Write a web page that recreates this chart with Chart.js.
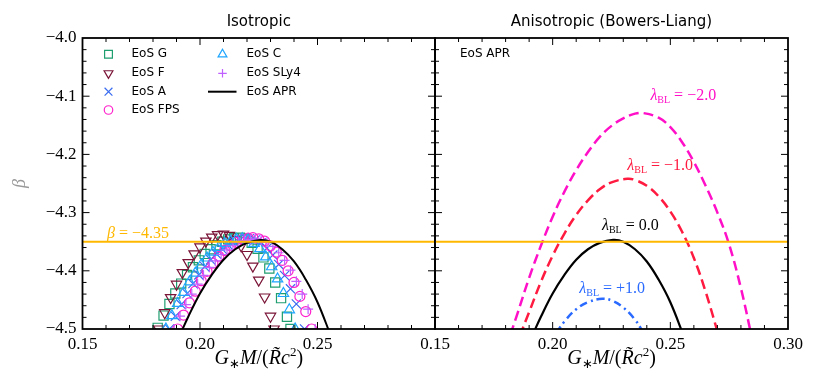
<!DOCTYPE html>
<html>
<head>
<meta charset="utf-8">
<script src="https://cdn.jsdelivr.net/npm/chart.js@4.4.0/dist/chart.umd.min.js"></script>
<style>
html, body { margin: 0; padding: 0; background: #fff; }
#wrap { position: relative; width: 830px; height: 388px; overflow: hidden; }
canvas { position: absolute; top: 0; }
#iso { left: 0; }
#aniso { left: 395px; }
</style>
</head>
<body>
<div id="wrap">
  <canvas id="iso" width="445" height="388"></canvas>
  <canvas id="aniso" width="435" height="388"></canvas>
</div>
<script>
// ---- data ----
const betaLine = -4.35;
const xRange = [0.15, 0.30];
const yRange = [-4.5, -4.0];

// isotropic, one curve per EoS
const eosG_x = [0.182, 0.1845, 0.187, 0.1895, 0.192, 0.1945, 0.197, 0.1995, 0.202, 0.2045, 0.207, 0.2095, 0.212, 0.2145, 0.217, 0.2195, 0.222, 0.2245, 0.227, 0.2295, 0.232, 0.2345, 0.237, 0.2385];
const eosG_y = [-4.498, -4.477, -4.457, -4.439, -4.422, -4.407, -4.394, -4.382, -4.371, -4.363, -4.356, -4.350, -4.346, -4.344, -4.343, -4.345, -4.352, -4.362, -4.377, -4.396, -4.420, -4.447, -4.479, -4.500];

const eosF_x = [0.1825, 0.185, 0.1875, 0.19, 0.1925, 0.195, 0.1975, 0.2, 0.2025, 0.205, 0.2075, 0.21, 0.2125, 0.215, 0.2175, 0.22, 0.2225, 0.225, 0.2275, 0.23, 0.2315];
const eosF_y = [-4.500, -4.472, -4.446, -4.423, -4.403, -4.386, -4.371, -4.359, -4.349, -4.342, -4.338, -4.337, -4.339, -4.346, -4.357, -4.372, -4.392, -4.416, -4.445, -4.478, -4.500];

const eosA_x = [0.187, 0.1895, 0.192, 0.1945, 0.197, 0.1995, 0.202, 0.2045, 0.207, 0.2095, 0.212, 0.2145, 0.217, 0.2195, 0.221, 0.2235, 0.226, 0.2285, 0.231, 0.2335, 0.236, 0.2385, 0.241, 0.2445];
const eosA_y = [-4.500, -4.478, -4.458, -4.439, -4.422, -4.407, -4.393, -4.381, -4.371, -4.363, -4.356, -4.351, -4.347, -4.345, -4.345, -4.347, -4.352, -4.361, -4.373, -4.389, -4.408, -4.431, -4.457, -4.500];

const eosFPS_x = [0.1905, 0.193, 0.1955, 0.198, 0.2005, 0.203, 0.2055, 0.208, 0.2105, 0.213, 0.2155, 0.218, 0.2205, 0.2225, 0.225, 0.2275, 0.23, 0.2325, 0.235, 0.2375, 0.24, 0.2425, 0.245, 0.2475];
const eosFPS_y = [-4.500, -4.476, -4.455, -4.435, -4.417, -4.401, -4.387, -4.375, -4.365, -4.357, -4.351, -4.346, -4.344, -4.343, -4.345, -4.349, -4.357, -4.368, -4.382, -4.400, -4.420, -4.444, -4.470, -4.500];

const eosC_x = [0.1855, 0.188, 0.1905, 0.193, 0.1955, 0.198, 0.2005, 0.203, 0.2055, 0.208, 0.2105, 0.213, 0.2155, 0.218, 0.2205, 0.223, 0.2255, 0.228, 0.2305, 0.233, 0.2355, 0.238, 0.2405];
const eosC_y = [-4.500, -4.477, -4.456, -4.437, -4.419, -4.404, -4.390, -4.378, -4.368, -4.360, -4.353, -4.349, -4.346, -4.345, -4.347, -4.353, -4.362, -4.376, -4.393, -4.414, -4.439, -4.467, -4.500];

const eosSLy4_x = [0.189, 0.1915, 0.194, 0.1965, 0.199, 0.2015, 0.204, 0.2065, 0.209, 0.2115, 0.214, 0.2165, 0.219, 0.2215, 0.2235, 0.226, 0.2285, 0.231, 0.2335, 0.236, 0.2385, 0.241, 0.2435, 0.246, 0.249];
const eosSLy4_y = [-4.500, -4.478, -4.458, -4.440, -4.423, -4.408, -4.394, -4.383, -4.372, -4.364, -4.357, -4.351, -4.348, -4.346, -4.345, -4.347, -4.351, -4.358, -4.369, -4.382, -4.399, -4.418, -4.440, -4.466, -4.500];

// EoS APR, also the lambda_BL = 0 curve
const apr_x = [0.1915, 0.195, 0.2, 0.205, 0.21, 0.215, 0.22, 0.2257, 0.23, 0.235, 0.24, 0.245, 0.25, 0.2557];
const apr_y = [-4.510, -4.479, -4.439, -4.407, -4.381, -4.363, -4.352, -4.347, -4.350, -4.363, -4.384, -4.415, -4.454, -4.512];

// anisotropic (Bowers-Liang), EoS APR
const blm2_x = [0.182, 0.185, 0.19, 0.195, 0.2, 0.205, 0.21, 0.215, 0.22, 0.225, 0.23, 0.235, 0.2385, 0.245, 0.25, 0.255, 0.26, 0.265, 0.27, 0.275, 0.28, 0.2845];
const blm2_y = [-4.510, -4.474, -4.412, -4.357, -4.307, -4.264, -4.227, -4.196, -4.170, -4.151, -4.138, -4.130, -4.129, -4.137, -4.153, -4.179, -4.213, -4.254, -4.300, -4.355, -4.430, -4.512];

const blm1_x = [0.186, 0.19, 0.195, 0.2, 0.205, 0.21, 0.215, 0.22, 0.225, 0.2317, 0.235, 0.24, 0.245, 0.25, 0.255, 0.26, 0.265, 0.2705];
const blm1_y = [-4.512, -4.471, -4.419, -4.374, -4.336, -4.304, -4.279, -4.260, -4.248, -4.242, -4.244, -4.254, -4.272, -4.298, -4.333, -4.378, -4.436, -4.511];

const blp1_x = [0.2015, 0.205, 0.21, 0.215, 0.2211, 0.225, 0.23, 0.235, 0.2385];
const blp1_y = [-4.507, -4.487, -4.466, -4.454, -4.448, -4.451, -4.463, -4.484, -4.506];

const pts = (xs, ys) => xs.map((x, i) => ({ x: x, y: ys[i] }));

const GOLD = '#ffb800';
const eosStyles = [
  { label: 'EoS G',    xs: eosG_x,    ys: eosG_y,    color: '#1f9e70', style: 'rect',     r: 6.5, rot: 0 },
  { label: 'EoS F',    xs: eosF_x,    ys: eosF_y,    color: '#7b1538', style: 'triangle', r: 6,   rot: 180 },
  { label: 'EoS A',    xs: eosA_x,    ys: eosA_y,    color: '#3a6cf0', style: 'crossRot', r: 6.5, rot: 0 },
  { label: 'EoS FPS',  xs: eosFPS_x,  ys: eosFPS_y,  color: '#ff22cc', style: 'circle',   r: 5,   rot: 0 },
  { label: 'EoS C',    xs: eosC_x,    ys: eosC_y,    color: '#1ea5ff', style: 'triangle', r: 6,   rot: 0 },
  { label: 'EoS SLy4', xs: eosSLy4_x, ys: eosSLy4_y, color: '#c060ff', style: 'cross',    r: 5,   rot: 0 }
];

// ---- drawing helpers ----
function drawParts(ctx, parts, x, base, align) {
  let w = 0;
  parts.forEach(p => { ctx.font = p[1]; w += ctx.measureText(p[0]).width; });
  let cx = align === 'center' ? x - w / 2 : x;
  ctx.textAlign = 'left';
  ctx.textBaseline = 'alphabetic';
  parts.forEach(p => {
    ctx.font = p[1];
    ctx.fillText(p[0], cx, base + (p[2] || 0));
    cx += ctx.measureText(p[0]).width;
  });
}

function drawXLabel(ctx, cx, base) {
  const it = 'italic 20px "Liberation Serif"', rm = '20px "Liberation Serif"', sm = '13px "Liberation Serif"';
  ctx.fillStyle = '#000';
  drawParts(ctx, [['G', it], ['\u2217', sm, 4], ['M', it], ['/(', rm], ['R\u0303', it], ['c', it], ['2', sm, -8], [')', rm]], cx, base, 'center');
}

function drawLambda(ctx, chart, xv, yv, value, color) {
  const { x, y } = chart.scales;
  ctx.fillStyle = color;
  drawParts(ctx, [['\u03bb', 'italic 16px "Liberation Serif"'], ['BL', '10px "Liberation Serif"', 3], [' = ' + value, '16px "Liberation Serif"']],
    x.getPixelForValue(xv), y.getPixelForValue(yv) + 6, 'center');
}

function marker(ctx, style, r, rot, px, py) {
  if (Chart.helpers && Chart.helpers.drawPoint) {
    Chart.helpers.drawPoint(ctx, { pointStyle: style, radius: r, rotation: rot, borderWidth: 1.2 }, px, py);
  }
}

function makeDecor(title, extra) {
  return {
    id: 'panelDecor',
    afterDraw(chart) {
      const { ctx, chartArea: a, scales: { x, y } } = chart;
      ctx.save();
      // inward ticks on all four sides
      ctx.strokeStyle = '#000';
      ctx.lineWidth = 1;
      ctx.beginPath();
      for (let i = 1; i < 15; i++) {
        const px = x.getPixelForValue(xRange[0] + i * 0.01);
        const len = i % 5 === 0 ? 7 : 4;
        ctx.moveTo(px, a.bottom); ctx.lineTo(px, a.bottom - len);
        ctx.moveTo(px, a.top); ctx.lineTo(px, a.top + len);
      }
      for (let i = 1; i < 25; i++) {
        const py = y.getPixelForValue(yRange[0] + i * 0.02);
        const len = i % 5 === 0 ? 7 : 4;
        ctx.moveTo(a.left, py); ctx.lineTo(a.left + len, py);
        ctx.moveTo(a.right, py); ctx.lineTo(a.right - len, py);
      }
      ctx.stroke();
      ctx.lineWidth = 1.8;
      ctx.strokeRect(a.left, a.top, a.right - a.left, a.bottom - a.top);

      ctx.fillStyle = '#000';
      ctx.font = '15px "DejaVu Sans"';
      ctx.textAlign = 'center';
      ctx.textBaseline = 'alphabetic';
      ctx.fillText(title, (a.left + a.right) / 2, 26);
      drawXLabel(ctx, (a.left + a.right) / 2, 364);
      extra(chart, ctx, a);
      ctx.restore();
    }
  };
}

function scalesFor(showY, yWidth) {
  return {
    x: {
      type: 'linear', min: xRange[0], max: xRange[1],
      grid: { display: false, drawTicks: false },
      border: { display: false },
      afterFit: s => { s.height = 59; },
      ticks: {
        stepSize: 0.05, autoSkip: false, maxRotation: 0, padding: 5, color: '#000',
        font: { family: 'Liberation Serif', size: 17 },
        callback: (v, i, t) => (!showY || i < t.length - 1) ? v.toFixed(2) : ''
      }
    },
    y: {
      type: 'linear', min: yRange[0], max: yRange[1],
      grid: { display: false, drawTicks: false },
      border: { display: false },
      afterFit: s => { s.width = yWidth; },
      ticks: {
        display: showY, stepSize: 0.1, padding: 6, color: '#000',
        font: { family: 'Liberation Serif', size: 17 },
        callback: v => v.toFixed(1).replace('-', '\u2212')
      }
    }
  };
}

const baseOptions = {
  responsive: false,
  animation: false,
  devicePixelRatio: 1,
  plugins: { legend: { display: false }, tooltip: { enabled: false } }
};

// ---- Isotropic panel ----
const isoDatasets = [
  { label: 'beta', data: [{ x: xRange[0], y: betaLine }, { x: xRange[1], y: betaLine }], showLine: true, borderColor: GOLD, borderWidth: 2, pointRadius: 0 },
  { label: 'EoS APR', data: pts(apr_x, apr_y), showLine: true, borderColor: '#000', borderWidth: 2, pointRadius: 0, tension: 0.4 }
].concat(eosStyles.slice().reverse().map(s => ({
  label: s.label,
  data: pts(s.xs, s.ys),
  showLine: false,
  borderColor: s.color,
  pointBorderColor: s.color,
  pointBackgroundColor: 'rgba(0,0,0,0)',
  pointStyle: s.style,
  pointRadius: s.r,
  pointRotation: s.rot,
  pointBorderWidth: 1.2
})));

new Chart(document.getElementById('iso'), {
  type: 'scatter',
  data: { datasets: isoDatasets },
  options: Object.assign({}, baseOptions, {
    layout: { padding: { top: 38, right: 10, left: 0, bottom: 0 } },
    scales: scalesFor(true, 82.5)
  }),
  plugins: [makeDecor('Isotropic', (chart, ctx, a) => {
    // legend, two columns
    const col = [{ m: a.left + 26, t: a.left + 49 }, { m: a.left + 140, t: a.left + 164 }];
    const rows = [16.3, 35.3, 53.7, 72];
    const slots = [[0, 0], [0, 1], [0, 2], [0, 3], [1, 0], [1, 1]];
    eosStyles.forEach((s, i) => {
      const c = col[slots[i][0]], ry = a.top + rows[slots[i][1]];
      ctx.strokeStyle = s.color;
      ctx.fillStyle = 'rgba(0,0,0,0)';
      ctx.lineWidth = 1.2;
      marker(ctx, s.style, s.r * 0.85, s.rot, c.m, ry);
      ctx.fillStyle = '#000';
      ctx.font = '12px "DejaVu Sans"';
      ctx.textAlign = 'left';
      ctx.textBaseline = 'middle';
      ctx.fillText(s.label, c.t, ry);
    });
    const ry = a.top + rows[2];
    ctx.strokeStyle = '#000';
    ctx.lineWidth = 2;
    ctx.beginPath(); ctx.moveTo(a.left + 125.5, ry); ctx.lineTo(a.left + 154, ry); ctx.stroke();
    ctx.fillText('EoS APR', col[1].t, ry);

    // beta = -4.35 label
    ctx.fillStyle = GOLD;
    drawParts(ctx, [['\u03b2', 'italic 16px "Liberation Serif"'], [' = \u22124.35', '16px "Liberation Serif"']],
      chart.scales.x.getPixelForValue(0.1604), chart.scales.y.getPixelForValue(betaLine) - 4, 'left');

    // y axis label
    ctx.save();
    ctx.translate(20, (a.top + a.bottom) / 2);
    ctx.rotate(-Math.PI / 2);
    ctx.fillStyle = '#999';
    ctx.font = 'italic 18px "Liberation Serif"';
    ctx.textAlign = 'center';
    ctx.textBaseline = 'middle';
    ctx.fillText('\u03b2', 0, 0);
    ctx.restore();
  })]
});

// ---- Anisotropic panel ----
const anisoDatasets = [
  { label: 'beta', data: [{ x: xRange[0], y: betaLine }, { x: xRange[1], y: betaLine }], showLine: true, borderColor: GOLD, borderWidth: 2, pointRadius: 0 },
  { label: 'lambda 0', data: pts(apr_x, apr_y), showLine: true, borderColor: '#000', borderWidth: 2.2, pointRadius: 0, tension: 0.4 },
  { label: 'lambda -1', data: pts(blm1_x, blm1_y), showLine: true, borderColor: '#ff1a40', borderWidth: 2.5, borderDash: [10, 5], pointRadius: 0, tension: 0.4 },
  { label: 'lambda -2', data: pts(blm2_x, blm2_y), showLine: true, borderColor: '#ff10c8', borderWidth: 2.5, borderDash: [10, 5], pointRadius: 0, tension: 0.4 },
  { label: 'lambda +1', data: pts(blp1_x, blp1_y), showLine: true, borderColor: '#2a6aff', borderWidth: 2.5, borderDash: [8, 4, 2, 4], pointRadius: 0, tension: 0.4 }
];

new Chart(document.getElementById('aniso'), {
  type: 'scatter',
  data: { datasets: anisoDatasets },
  options: Object.assign({}, baseOptions, {
    layout: { padding: { top: 38, right: 42, left: 0, bottom: 0 } },
    scales: scalesFor(false, 40)
  }),
  plugins: [makeDecor('Anisotropic (Bowers-Liang)', (chart, ctx, a) => {
    ctx.fillStyle = '#000';
    ctx.font = '12px "DejaVu Sans"';
    ctx.textAlign = 'left';
    ctx.textBaseline = 'middle';
    ctx.fillText('EoS APR', a.left + 25, a.top + 16.3);
    drawLambda(ctx, chart, 0.2555, -4.096, '\u22122.0', '#ff10c8');
    drawLambda(ctx, chart, 0.2457, -4.2165, '\u22121.0', '#ff1a40');
    drawLambda(ctx, chart, 0.2330, -4.320, '0.0', '#000');
    drawLambda(ctx, chart, 0.2253, -4.428, '+1.0', '#2a6aff');
  })]
});
</script>
</body>
</html>
